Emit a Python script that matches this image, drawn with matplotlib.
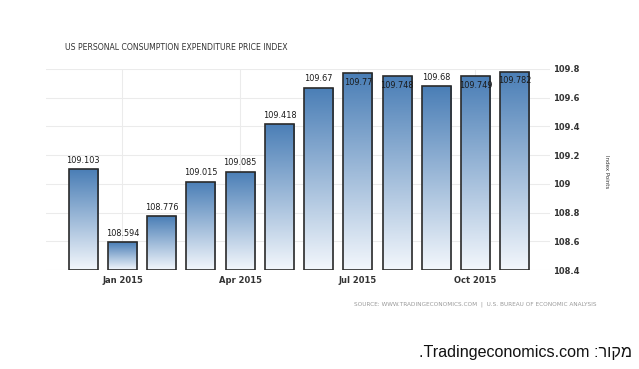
import matplotlib
matplotlib.use("Agg")
import matplotlib.pyplot as plt
import numpy as np
from matplotlib.colors import LinearSegmentedColormap

months = ["Dec 2014", "Jan 2015", "Feb 2015", "Mar 2015", "Apr 2015", "May 2015",
          "Jun 2015", "Jul 2015", "Aug 2015", "Sep 2015", "Oct 2015", "Nov 2015"]
values = [109.103, 108.594, 108.776, 109.015, 109.085, 109.418,
          109.67, 109.77, 109.748, 109.68, 109.749, 109.782]
value_labels = ["109.103", "108.594", "108.776", "109.015", "109.085", "109.418",
                "109.67", "109.77", "109.748", "109.68", "109.749", "109.782"]
tick_positions = [1, 4, 7, 10]
tick_labels = ["Jan 2015", "Apr 2015", "Jul 2015", "Oct 2015"]
yticks = [108.4, 108.6, 108.8, 109.0, 109.2, 109.4, 109.6, 109.8]
ytick_labels = ["108.4", "108.6", "108.8", "109", "109.2", "109.4", "109.6", "109.8"]

W, H = 639, 369
fig = plt.figure(figsize=(W / 100, H / 100), dpi=100)
ax = fig.add_axes([46 / W, 1 - 270 / H, (550 - 46) / W, (270 - 69) / H])

ymin, ymax = 108.4, 109.8
ax.set_ylim(ymin, ymax)
ax.set_xlim(-0.95, 11.9)

cmap = LinearSegmentedColormap.from_list("g", ["#f3f7fc", "#4a7eb6"])
grad = np.linspace(0, 1, 256).reshape(-1, 1)

x = np.arange(len(values))
bars = ax.bar(x, [v - ymin for v in values], bottom=ymin, width=0.74,
              facecolor="none", edgecolor="#2a2a2a", linewidth=1.2, zorder=3)
for b in bars:
    x0, y0 = b.get_x(), b.get_y()
    w, h = b.get_width(), b.get_height()
    im = ax.imshow(grad, cmap=cmap, aspect="auto", origin="lower",
                   extent=[x0, x0 + w, y0, y0 + h], zorder=2, interpolation="bicubic")
    im.set_clip_path(b)

for xi, v, lab in zip(x, values, value_labels):
    if v + 0.0975 > ymax:
        ax.annotate(lab, (xi, v), xytext=(0, -9.2 * 0.72), textcoords="offset points",
                    ha="center", va="center", fontsize=5.9, color="#1a1a1a", zorder=5)
    else:
        ax.annotate(lab, (xi, v), xytext=(0, 8.8 * 0.72), textcoords="offset points",
                    ha="center", va="center", fontsize=5.9, color="#1a1a1a", zorder=5)

ax.set_yticks(yticks)
ax.set_yticklabels(ytick_labels)
ax.yaxis.tick_right()
ax.set_xticks(tick_positions)
ax.set_xticklabels(tick_labels)
ax.tick_params(axis="both", length=0, labelsize=6, labelcolor="#333333")
ax.tick_params(axis="x", pad=4.5)
ax.tick_params(axis="y", pad=2.2)
for lbl in ax.get_xticklabels() + ax.get_yticklabels():
    lbl.set_fontweight("bold")
for s in ax.spines.values():
    s.set_visible(False)
ax.grid(True, color="#ebebeb", linewidth=0.75, zorder=0)
ax.set_axisbelow(True)

ax.yaxis.set_label_position("right")
ax.set_ylabel("Index Points", rotation=270, fontsize=4, color="#333333")
ax.yaxis.set_label_coords(1 + (609 - 550) / (550 - 46), 0.49)

fig.text(65 / W, 1 - 47 / H, "US PERSONAL CONSUMPTION EXPENDITURE PRICE INDEX",
         fontsize=5.55, color="#333333", ha="left", va="center")
fig.text(597 / W, 1 - 304 / H,
         "SOURCE: WWW.TRADINGECONOMICS.COM  |  U.S. BUREAU OF ECONOMIC ANALYSIS",
         fontsize=4.18, color="#999999", ha="right", va="center")
fig.text(632 / W, 1 - 352 / H, ".Tradingeconomics.com :" + "רוקמ",
         fontsize=11.6, color="#111111", ha="right", va="center",
         family=["Liberation Sans", "DejaVu Sans"])

fig.savefig("out.png", dpi=100)
